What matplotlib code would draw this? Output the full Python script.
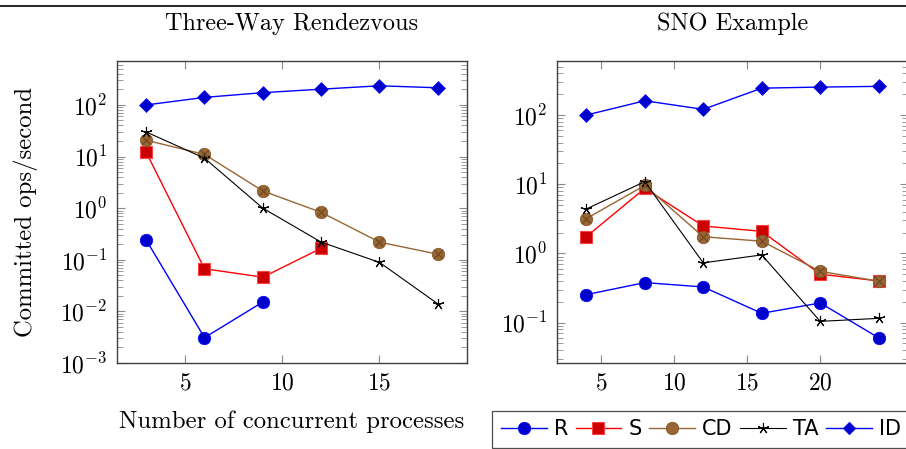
import numpy as np
import matplotlib
matplotlib.use("Agg")
import matplotlib.pyplot as plt
from matplotlib.lines import Line2D
from matplotlib.ticker import LogLocator, NullFormatter, FixedLocator

plt.rcParams['mathtext.fontset'] = 'cm'
plt.rcParams['font.family'] = ['cmr10', 'DejaVu Serif']
plt.rcParams['axes.unicode_minus'] = False
plt.rcParams['axes.formatter.use_mathtext'] = True

# Three-Way Rendezvous data
rv_x = [3, 6, 9, 12, 15, 18]
rv_R = [0.242, 0.0031, 0.0152]
rv_S = [12.1, 0.067, 0.046, 0.167]
rv_CD = [20.7, 11.0, 2.15, 0.83, 0.22, 0.128]
rv_TA = [30.0, 9.3, 1.0, 0.22, 0.089, 0.014]
rv_ID = [100, 140, 173, 202, 235, 215]

# SNO Example data
sno_x = [4, 8, 12, 16, 20, 24]
sno_R = [0.253, 0.378, 0.327, 0.136, 0.192, 0.060]
sno_S = [1.74, 8.7, 2.49, 2.08, 0.50, 0.40]
sno_CD = [3.18, 9.6, 1.74, 1.50, 0.55, 0.395]
sno_TA = [4.38, 10.9, 0.73, 0.95, 0.104, 0.115]
sno_ID = [100, 161, 121, 245, 254, 260]

labels = ['R', 'S', 'CD', 'TA', 'ID']

fig = plt.figure(figsize=(9.06, 4.49), dpi=100)
ax1 = fig.add_axes([117/906, 1-363/449, 350/906, 302/449])
ax2 = fig.add_axes([557/906, 1-363/449, 351/906, 302/449])

# marker styles per series
styles = [
    dict(color='#0000ff', lw=1, marker='o', ms=9, mfc='#0000cc', mec='#0000ff', mew=0.5),
    dict(color='#ff0000', lw=1, marker='s', ms=8.5, mfc='#cc0000', mec='#ff4040', mew=0.8),
    dict(color='#996633', lw=1, marker='o', ms=9, mfc='#996633', mec='#7a5229', mew=0.5),
    dict(color='black', lw=0.8, marker=(5, 2, 0), ms=8, mec='black', mew=0.8),
    dict(color='#0000ff', lw=1, marker=(4, 0, 0), ms=10, mfc='#0000cc', mec='#0000ff', mew=0.5),
]


def draw(ax, x, R, S, CD, TA, ID):
    for vals, st in zip([R, S, CD, TA, ID], styles):
        ax.plot(x[:len(vals)], vals, **st)
    # cross inside the CD circles
    ax.plot(x, CD, ls='none', marker='x', ms=6, mec='#6b4722', mew=0.8)
    ax.set_yscale('log')
    ax.yaxis.set_major_locator(LogLocator(base=10, numticks=20))
    ax.yaxis.set_minor_locator(LogLocator(base=10, subs=np.arange(2, 10), numticks=20))
    ax.yaxis.set_minor_formatter(NullFormatter())
    ax.tick_params(which='both', direction='in', top=True, right=True,
                   color='#8a8a8a', labelsize=17)
    ax.tick_params(which='major', length=6, width=0.8, pad=7)
    ax.tick_params(which='minor', length=4, width=0.6)
    ax.tick_params(axis='x', which='minor', top=False, bottom=False)
    for sp in ax.spines.values():
        sp.set_color('#404040')
        sp.set_linewidth(1.0)


draw(ax1, rv_x, rv_R, rv_S, rv_CD, rv_TA, rv_ID)
draw(ax2, sno_x, sno_R, sno_S, sno_CD, sno_TA, sno_ID)

ax1.set_xlim(1.5, 19.5)
ax1.set_ylim(1e-3, 710)
ax1.xaxis.set_major_locator(FixedLocator([5, 10, 15]))
ax2.set_xlim(2, 26)
ax2.set_ylim(0.026, 605)
ax2.xaxis.set_major_locator(FixedLocator([5, 10, 15, 20]))

ax1.set_title('Three-Way Rendezvous', fontsize=17.5, pad=22)
ax2.set_title('SNO Example', fontsize=17.5, pad=22)
ax1.set_ylabel('Committed ops/second', fontsize=17.8, labelpad=16)
ax1.set_xlabel('Number of concurrent processes', fontsize=17.8, labelpad=11)

leg_handles = [Line2D([], [], **st) for st in styles]
leg_handles[4].set_markersize(9)
leg = fig.legend(leg_handles, labels, loc='lower left', bbox_to_anchor=(482/906, -0.02),
                 ncol=5, frameon=True, fancybox=False, edgecolor='#202020',
                 prop={'family': 'DejaVu Sans', 'size': 15}, handlelength=2.2,
                 handletextpad=0.35, columnspacing=0.35, borderpad=0.4)
leg.get_frame().set_linewidth(0.9)

# top rule
fig.add_artist(Line2D([0, 1], [1-6/449, 1-6/449], color='black', lw=1.2,
                      transform=fig.transFigure))

fig.savefig('out.png', dpi=100)
